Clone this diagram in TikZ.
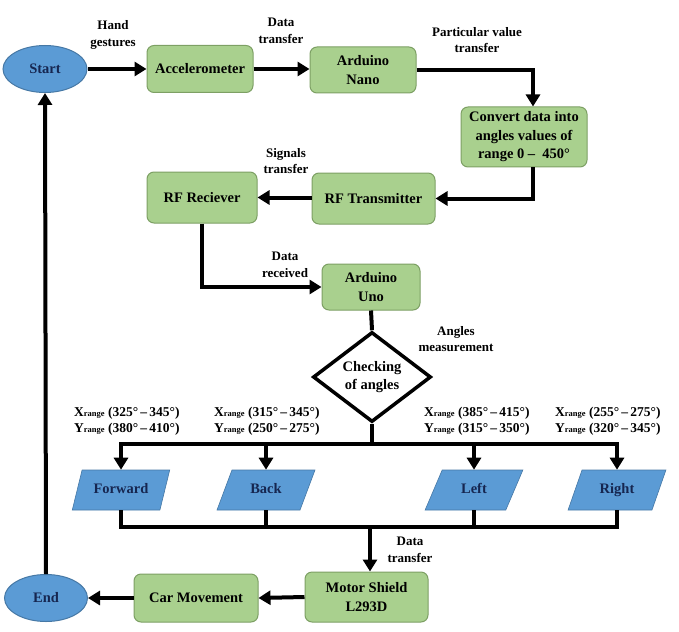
\documentclass[tikz,border=0pt]{standalone}
\usepackage{fontspec}
\setmainfont{Liberation Serif}
\usetikzlibrary{shapes.geometric,arrows.meta,calc}
\definecolor{boxgreen}{RGB}{169,208,142}
\definecolor{boxedge}{RGB}{125,160,100}
\definecolor{ellblue}{RGB}{91,155,213}
\definecolor{elledge}{RGB}{70,120,165}
\definecolor{navy}{RGB}{22,38,80}
\newcommand\rangesub{{\fontsize{8.5}{8.5}\selectfont range}}
\begin{document}
\begin{tikzpicture}[x=1pt,y=-1pt,
  proc/.style={draw=boxedge, line width=1pt, fill=boxgreen, rounded corners=7pt,
    align=center, font=\fontsize{14.5}{18.5}\selectfont\bfseries, text=black, inner sep=0pt},
  term/.style={ellipse, draw=elledge, line width=1pt, fill=ellblue, inner sep=0pt,
    font=\fontsize{14.5}{18}\selectfont\bfseries, text=navy},
  io/.style={trapezium, trapezium left angle=62, trapezium right angle=118,
    trapezium stretches=true, minimum width=98, minimum height=40, inner sep=0pt,
    text height=10pt, text depth=3pt,
    draw=elledge, line width=0.6pt, fill=ellblue,
    font=\fontsize{14.5}{18}\selectfont\bfseries, text=navy},
  dec/.style={diamond, aspect=1.3, draw=black, line width=3.5pt, fill=white,
    minimum width=118, minimum height=90, inner sep=0pt, align=center,
    font=\fontsize{14.5}{18}\selectfont\bfseries},
  lbl/.style={align=center, font=\fontsize{13}{16.5}\selectfont\bfseries, inner sep=0pt},
  rng/.style={align=left, anchor=west, font=\fontsize{13.5}{15.5}\selectfont\bfseries, inner sep=0pt},
  ln/.style={line width=4pt, line join=miter},
  arr/.style={ln, -{Triangle[length=12pt,width=14pt]}}
]
\useasboundingbox (0,0) rectangle (679,631);

% nodes
\node[term, minimum width=84, minimum height=47] (start) at (45,69) {Start};
\node[proc, minimum width=106, minimum height=47] (accel) at (200,69) {Accelerometer};
\node[proc, minimum width=106, minimum height=46] (nano) at (363,70) {Arduino\\Nano};
\node[proc, minimum width=126, minimum height=60] (convert) at (524,137) {Convert data into\\angles values of\\range 0 --\ \ 450°};
\node[proc, minimum width=123, minimum height=51] (rftx) at (373.5,198.5) {RF Transmitter};
\node[proc, minimum width=110, minimum height=51] (rfrx) at (202,197.5) {RF Reciever};
\node[proc, minimum width=98, minimum height=46] (uno) at (371,287) {Arduino\\Uno};
\node[dec] (chk) at (372,377) {Checking\\of angles};
\node[io] (fw) at (121,490) {Forward};
\node[io] (bk) at (266,490) {Back};
\node[io] (lf) at (474,490) {Left};
\node[io] (rt) at (617,490) {Right};
\node[proc, minimum width=123, minimum height=50] (motor) at (366.5,597) {Motor Shield\\L293D};
\node[proc, minimum width=124, minimum height=48] (car) at (196,598) {Car Movement};
\node[term, minimum width=83, minimum height=47] (end) at (46,598) {End};

% labels
\node[lbl] (l1) at (113,35) {Hand\\gestures};
\node[lbl] (l2) at (281,31) {Data\\transfer};
\node[lbl] (l3) at (477,40) {Particular value\\transfer};
\node[lbl] (l4) at (286,161) {Signals\\transfer};
\node[lbl] (l5) at (285,265) {Data\\received};
\node[lbl] (l6) at (456,339) {Angles\\measurement};
\node[lbl] (l7) at (410,550) {Data\\transfer};
\node[rng] (r1) at (74,421) {X\rangesub{} (325°\,–\,345°)\\Y\rangesub{} (380°\,–\,410°)};
\node[rng] (r2) at (214,421) {X\rangesub{} (315°\,–\,345°)\\Y\rangesub{} (250°\,–\,275°)};
\node[rng] (r3) at (424,421) {X\rangesub{} (385°\,–\,415°)\\Y\rangesub{} (315°\,–\,350°)};
\node[rng] (r4) at (555,421) {X\rangesub{} (255°\,–\,275°)\\Y\rangesub{} (320°\,–\,345°)};

% helper coordinates
\coordinate (cx) at (533,137);
\coordinate (bus) at (372,444);
\coordinate (low) at (370,527);

% connectors
\draw[arr] (start.east) -- (accel.west);
\draw[arr] (accel.east) -- (accel.east -| nano.west);
\draw[arr] (nano.east) -| (cx |- convert.north);
\draw[arr] (cx |- convert.south) |- (rftx.east);
\draw[arr] (rftx.west |- rfrx.east) -- (rfrx.east);
\draw[arr] (rfrx.south) |- (uno.west);
\draw[ln] (uno.south) -- (chk.north);
\draw[ln] (chk.south) -- (bus);
\draw[arr] (bus) -| (fw.north);
\draw[arr] (bus) -| (rt.north);
\draw[arr] (bk.north |- bus) -- (bk.north);
\draw[arr] (lf.north |- bus) -- (lf.north);
\draw[ln] (fw.south) |- (rt.south |- low) -- (rt.south);
\draw[ln] (bk.south) -- (bk.south |- low);
\draw[ln] (lf.south) -- (lf.south |- low);
\draw[arr] (low) -- (low |- motor.north);
\draw[arr] (motor.west) -- (car.east);
\draw[arr] (car.west) -- (end.east);
\draw[arr] (end.north) -- (start.south);
\end{tikzpicture}
\end{document}
